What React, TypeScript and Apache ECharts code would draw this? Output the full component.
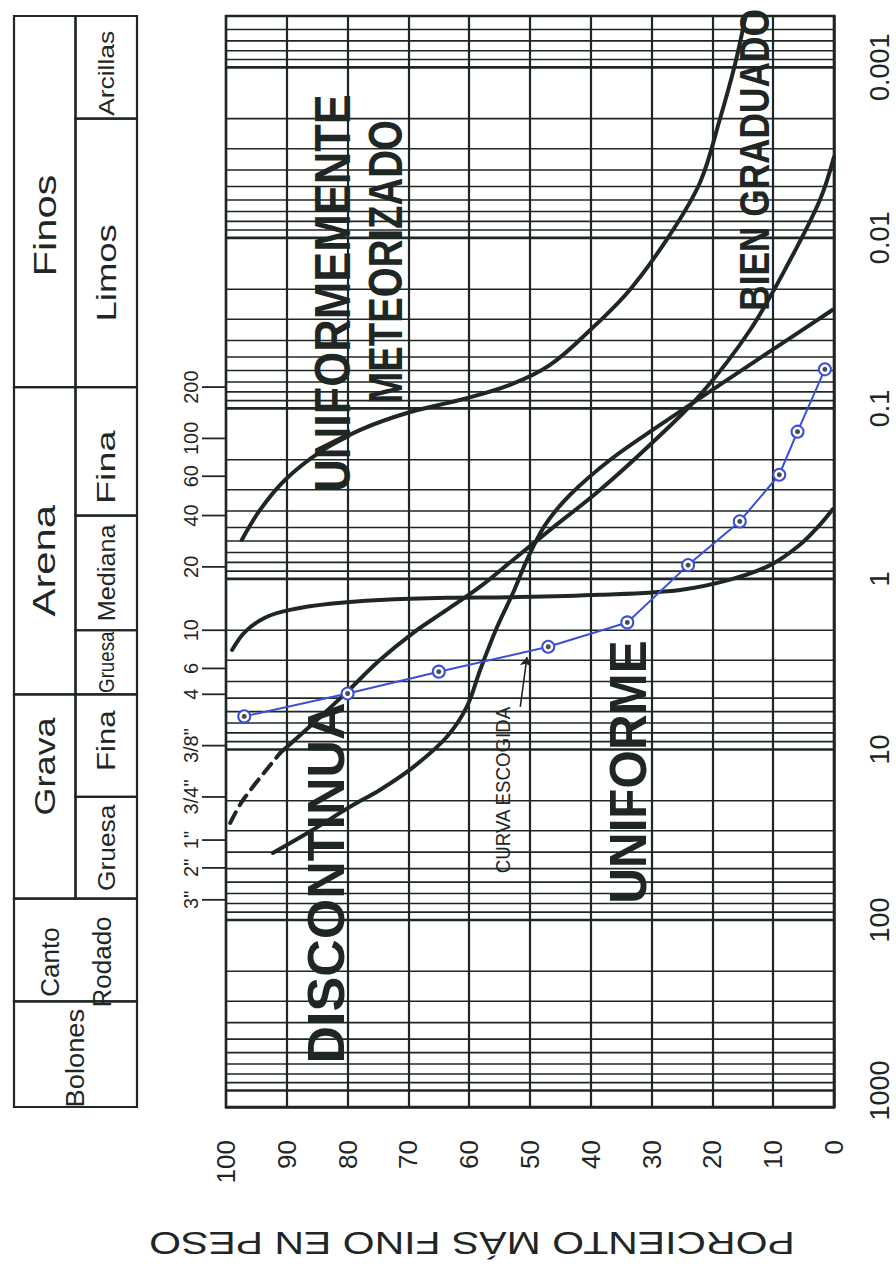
import React, { useEffect, useRef } from 'react';
import * as echarts from 'echarts';

// ---------- data ----------
const PERCENT_TICK_LABELS = ['0', '10', '20', '30', '40', '50', '60', '70', '80', '90', '100'];
const SIZE_TICK_LABELS = ['0.001', '0.01', '0.1', '1', '10', '100', '1000'];

// curva escogida (blue, measured points)
const CHOSEN_PCT = [97, 80, 65, 47, 34, 24, 15.5, 9, 6, 1.5];
const CHOSEN_MM = [6.4, 4.7, 3.5, 2.5, 1.8, 0.83, 0.46, 0.245, 0.137, 0.059];

// uniforme
const UNIFORME_PCT = [99, 96.9, 93.6, 89.5, 82.9, 74.7, 63.7, 52.8, 38.5, 25.3, 17.1, 10.5, 5.6, 2.3, 0.2];
const UNIFORME_MM = [2.61, 2.05, 1.69, 1.52, 1.4, 1.33, 1.29, 1.28, 1.24, 1.16, 1.01, 0.83, 0.63, 0.48, 0.39];

// discontinua
const DISCONTINUA_PCT = [92.3, 85.7, 79.6, 74.7, 69.2, 63.7, 60.4, 58.2, 55.4, 52.8, 50.5, 47.5, 43.4, 36.8, 28.6, 18.8, 8.9, 0.2];
const DISCONTINUA_MM = [40.5, 29.6, 21.7, 17.3, 12.7, 8.45, 5.63, 3.42, 1.91, 1.21, 0.774, 0.482, 0.321, 0.2, 0.125, 0.0728, 0.0424, 0.0264];

// bien graduado (dashed start + solid)
const BIEN_DASH_PCT = [99.3, 97.2, 91.1];
const BIEN_DASH_MM = [27.0, 19.8, 10.5];
const BIEN_PCT = [91.1, 84.5, 80.1, 74.7, 69.2, 63.7, 58.2, 52.8, 46.7, 38.5, 30.3, 22.0, 13.8, 7.2, 2.3, 0];
const BIEN_MM = [10.5, 6.45, 4.6, 2.99, 2.07, 1.52, 1.11, 0.774, 0.516, 0.301, 0.164, 0.0833, 0.0347, 0.01345, 0.00598, 0.00335];

// uniformemente meteorizado
const METEOR_PCT = [97.4, 94.4, 90.3, 84.5, 78.0, 69.7, 61.5, 53.3, 46.7, 40.1, 33.6, 27.0, 22.0, 18.8, 16.3, 14.6];
const METEOR_MM = [0.591, 0.394, 0.263, 0.18, 0.134, 0.105, 0.0892, 0.0728, 0.0556, 0.0347, 0.0202, 0.0096, 0.0047, 0.00203, 0.000966, 0.000513];

// sieves (positions as drawn on the sheet)
const SIEVE_LABELS = ['200', '100', '60', '40', '20', '10', '6', '4', '3/8"', '3/4"', '1"', '2"', '3"'];
const SIEVE_MM = [0.075, 0.15, 0.25, 0.425, 0.85, 2.0, 3.35, 4.75, 9.5, 19, 34, 49.5, 76.2];

// classification table
const CLASS_LABELS = ['Finos', 'Arcillas', 'Limos', 'Arena', 'Fina', 'Mediana', 'Gruesa', 'Grava', 'Fina', 'Gruesa', 'Canto\nRodado', 'Bolones'];
const CLASS_COL_FROM = [0, 1, 1, 0, 1, 1, 1, 0, 1, 1, 0, 0];
const CLASS_COL_TO = [1, 2, 2, 1, 2, 2, 2, 1, 2, 2, 2, 2];
const CLASS_MM_FROM = [0.0005, 0.0005, 0.002, 0.075, 0.075, 0.425, 2, 4.75, 4.75, 19, 75, 300];
const CLASS_MM_TO = [0.075, 0.002, 0.075, 4.75, 0.425, 2, 4.75, 75, 19, 75, 300, 1250];

// arrow "curva escogida"
const ARROW_FROM = [51.6, 5.63];
const ARROW_TO = [50.5, 2.87];

// log paper lines
const GRID_DECADES = [0.0001, 0.001, 0.01, 0.1, 1, 10, 100, 1000];
const GRID_STEPS = [1, 2, 3, 4, 5, 6, 7, 8, 9];

// ---------- styles ----------
const INK = '#1f2725';
const BLUE = '#3b4fd6';
const FONT = '"Liberation Sans", Arial, Helvetica, sans-serif';
const CLASS_FONT_SIZE = [32, 22, 27, 31, 26, 24, 22, 30, 26, 24, 26, 26];
const CLASS_SCALE = [1.3, 1.2, 1.35, 1.35, 1.45, 1.05, 0.85, 1.2, 1.2, 1.1, 1.0, 1.05];
const CLASS_TEXT_SHIFT = [24, 6, 20, 20, 16, 0, 0, -30, -5, 0, 12, 4];

const zip = (a: number[], b: number[]) => a.map((v, i) => [v, b[i]]);

export default function App() {
  const ref = useRef<HTMLDivElement>(null);

  useEffect(() => {
    if (!ref.current) return;
    const chart = echarts.init(ref.current, null, { renderer: 'svg' });

    const gridValues: number[] = [];
    GRID_DECADES.forEach((d) =>
      GRID_STEPS.forEach((s) => {
        const v = d * s;
        if (v > 0.00051 && v < 1240) gridValues.push(v);
      })
    );

    const curveLine = (name: string, pct: number[], mm: number[], dashed = false) => ({
      type: 'line',
      name,
      xAxisIndex: 0,
      yAxisIndex: 0,
      data: zip(pct, mm),
      smooth: 0.35,
      showSymbol: false,
      symbol: 'none',
      silent: true,
      z: 4,
      lineStyle: { color: INK, width: 4, type: dashed ? [12, 8] : 'solid', cap: 'round', join: 'round' },
    });

    const bigText = (text: string, x: number, y: number, size: number, sx: number, bold = true) => ({
      type: 'text',
      x,
      y,
      rotation: Math.PI / 2,
      scaleX: sx,
      z: 20,
      silent: true,
      style: {
        text,
        fill: INK,
        font: `${bold ? 'bold ' : ''}${size}px ${FONT}`,
        align: 'center',
        verticalAlign: 'middle',
      },
    });

    const option: any = {
      animation: false,
      backgroundColor: '#ffffff',
      textStyle: { fontFamily: FONT },
      grid: [
        { left: 226, right: 62, top: 16, bottom: 157, show: true, borderColor: INK, borderWidth: 2.5, containLabel: false },
        { left: 14, width: 123, top: 16, bottom: 157, show: false, containLabel: false },
      ],
      xAxis: [
        {
          type: 'value',
          gridIndex: 0,
          min: 0,
          max: 100,
          interval: 10,
          inverse: true,
          position: 'bottom',
          axisLine: { show: true, lineStyle: { color: INK, width: 2.5 } },
          axisTick: { show: false },
          splitLine: { show: true, lineStyle: { color: INK, width: 2.2 } },
          axisLabel: {
            rotate: 90,
            margin: 33,
            fontSize: 26,
            color: INK,
            fontFamily: FONT,
            formatter: (v: number) => PERCENT_TICK_LABELS[Math.round(v / 10)] ?? '',
          },
        },
        { type: 'value', gridIndex: 1, min: 0, max: 2, show: false },
      ],
      yAxis: [
        {
          type: 'log',
          logBase: 10,
          gridIndex: 0,
          min: 0.0005,
          max: 1250,
          inverse: true,
          position: 'right',
          axisLine: { show: true, lineStyle: { color: INK, width: 2.5 } },
          axisTick: { show: false },
          splitLine: { show: false },
          axisLabel: {
            rotate: 90,
            margin: 32,
            fontSize: 27,
            color: INK,
            fontFamily: FONT,
            formatter: (v: number) => {
              const l = Math.log10(v);
              const e = Math.round(l);
              if (Math.abs(l - e) > 1e-6) return '';
              return SIZE_TICK_LABELS[e + 3] ?? '';
            },
          },
        },
        { type: 'log', logBase: 10, gridIndex: 1, min: 0.0005, max: 1250, inverse: true, show: false },
      ],
      series: [
        // horizontal log-paper lines
        {
          type: 'custom',
          name: 'papel',
          xAxisIndex: 0,
          yAxisIndex: 0,
          silent: true,
          z: 1,
          data: gridValues.map((v) => [50, v]),
          encode: { x: 0, y: 1 },
          renderItem: (params: any, api: any) => {
            const v = api.value(1);
            const a = api.coord([100, v]);
            const b = api.coord([0, v]);
            const l = Math.log10(v);
            const major = Math.abs(l - Math.round(l)) < 1e-6;
            return {
              type: 'line',
              shape: { x1: a[0], y1: a[1], x2: b[0], y2: b[1] },
              style: { stroke: INK, lineWidth: major ? 2.6 : 1.6 },
            };
          },
        },
        // sieve ticks and labels
        {
          type: 'custom',
          name: 'tamices',
          xAxisIndex: 0,
          yAxisIndex: 0,
          silent: true,
          z: 2,
          data: SIEVE_MM.map((d) => [100, d]),
          encode: { x: 0, y: 1 },
          renderItem: (params: any, api: any) => {
            const p = api.coord([api.value(0), api.value(1)]);
            return {
              type: 'group',
              children: [
                {
                  type: 'line',
                  shape: { x1: p[0] - 24, y1: p[1], x2: p[0], y2: p[1] },
                  style: { stroke: INK, lineWidth: 1.8 },
                },
                {
                  type: 'text',
                  x: p[0] - 35,
                  y: p[1],
                  rotation: Math.PI / 2,
                  style: {
                    text: SIEVE_LABELS[params.dataIndex],
                    fill: INK,
                    font: `20px ${FONT}`,
                    align: 'center',
                    verticalAlign: 'middle',
                  },
                },
              ],
            };
          },
        },
        // classification table
        {
          type: 'custom',
          name: 'clasificacion',
          xAxisIndex: 1,
          yAxisIndex: 1,
          silent: true,
          z: 2,
          data: CLASS_LABELS.map((_, i) => [CLASS_COL_FROM[i], CLASS_MM_FROM[i], CLASS_COL_TO[i], CLASS_MM_TO[i]]),
          encode: { x: [0, 2], y: [1, 3] },
          renderItem: (params: any, api: any) => {
            const i = params.dataIndex;
            const p0 = api.coord([api.value(0), api.value(1)]);
            const p1 = api.coord([api.value(2), api.value(3)]);
            return {
              type: 'group',
              children: [
                {
                  type: 'rect',
                  shape: { x: p0[0], y: p0[1], width: p1[0] - p0[0], height: p1[1] - p0[1] },
                  style: { fill: 'none', stroke: INK, lineWidth: 2.2 },
                },
                {
                  type: 'text',
                  x: (p0[0] + p1[0]) / 2,
                  y: (p0[1] + p1[1]) / 2 + CLASS_TEXT_SHIFT[i],
                  rotation: Math.PI / 2,
                  scaleX: CLASS_SCALE[i],
                  style: {
                    text: CLASS_LABELS[i],
                    fill: INK,
                    font: `${CLASS_FONT_SIZE[i]}px ${FONT}`,
                    align: 'center',
                    verticalAlign: 'middle',
                    lineHeight: 52,
                  },
                },
              ],
            };
          },
        },
        curveLine('Uniformemente meteorizado', METEOR_PCT, METEOR_MM),
        curveLine('Bien graduado (extrapolado)', BIEN_DASH_PCT, BIEN_DASH_MM, true),
        curveLine('Bien graduado', BIEN_PCT, BIEN_MM),
        curveLine('Uniforme', UNIFORME_PCT, UNIFORME_MM),
        curveLine('Discontinua', DISCONTINUA_PCT, DISCONTINUA_MM),
        {
          type: 'line',
          name: 'Curva escogida',
          xAxisIndex: 0,
          yAxisIndex: 0,
          data: zip(CHOSEN_PCT, CHOSEN_MM),
          smooth: false,
          symbol: 'emptyCircle',
          symbolSize: 12,
          silent: true,
          z: 6,
          lineStyle: { color: BLUE, width: 2 },
          itemStyle: { color: BLUE, borderColor: BLUE, borderWidth: 2 },
          markLine: {
            silent: true,
            symbol: ['none', 'arrow'],
            symbolSize: 9,
            label: { show: false },
            lineStyle: { color: INK, width: 1.6, type: 'solid', curveness: 0.25 },
            data: [[{ coord: ARROW_FROM }, { coord: ARROW_TO }]],
          },
        },
        {
          type: 'scatter',
          name: 'Curva escogida (puntos)',
          xAxisIndex: 0,
          yAxisIndex: 0,
          data: zip(CHOSEN_PCT, CHOSEN_MM),
          symbolSize: 5,
          silent: true,
          z: 7,
          itemStyle: { color: '#1b1d33' },
        },
      ],
      graphic: [
        bigText('UNIFORMEMENTE', 333, 293, 50, 0.9),
        bigText('METEORIZADO', 385, 262, 48, 0.8),
        bigText('BIEN GRADUADO', 754, 160, 42, 0.84),
        bigText('UNIFORME', 628, 772, 52, 0.95),
        bigText('DISCONTINUA', 326, 883, 52, 1.0),
        bigText('CURVA ESCOGIDA', 503, 790, 21, 0.89, false),
        {
          type: 'text',
          x: 472,
          y: 1243,
          rotation: Math.PI,
          scaleX: 1.28,
          z: 20,
          silent: true,
          style: {
            text: 'PORCIENTO MÁS FINO EN PESO',
            fill: INK,
            font: `32px ${FONT}`,
            align: 'center',
            verticalAlign: 'middle',
          },
        },
      ],
    };

    chart.setOption(option);
    return () => chart.dispose();
  }, []);

  return (
    <div
      ref={ref}
      style={{ position: 'fixed', left: 0, top: 0, width: 896, height: 1264, background: '#fff' }}
    />
  );
}
